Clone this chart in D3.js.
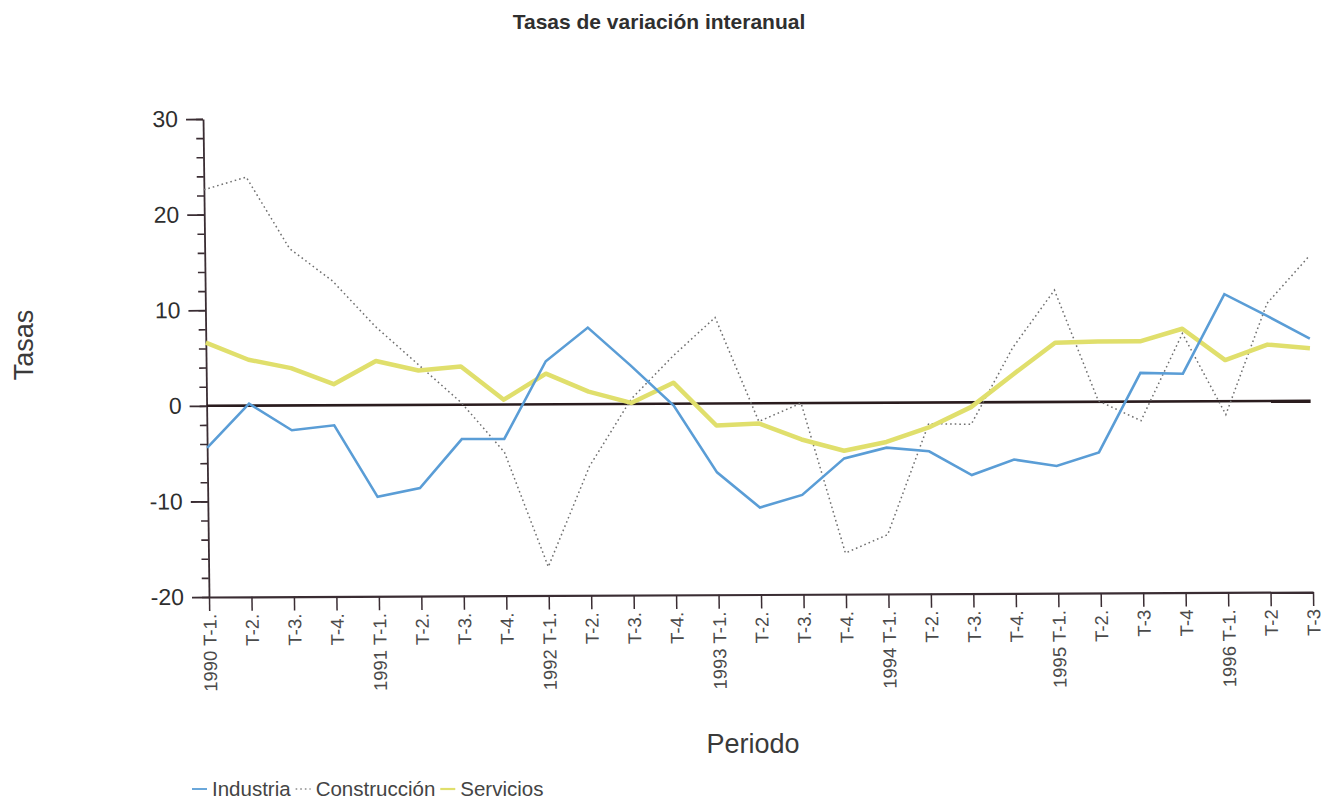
<!DOCTYPE html>
<html>
  <head>
    <meta charset="utf-8">
    <title>Tasas de variación interanual</title>
    <script src="https://cdn.jsdelivr.net/npm/d3@7"></script>
    <style>
      body { margin: 0; background: #fff; }
      svg { display: block; font-family: "Liberation Sans", Arial, sans-serif; }
      .axis path, .axis line { stroke: #3a2d33; }
    </style>
  </head>

  <body>
    <svg id="chart" width="1337" height="802"></svg>

    <script>
      // data
      periods = ["1990 T-1.", "T-2.", "T-3.", "T-4.", "1991 T-1.", "T-2.", "T-3.", "T-4.",
        "1992 T-1.", "T-2.", "T-3.", "T-4.", "1993 T-1.", "T-2.", "T-3.", "T-4.",
        "1994 T-1.", "T-2.", "T-3.", "T-4.", "1995 T-1.", "T-2.", "T-3", "T-4",
        "1996 T-1.", "T-2", "T-3"];
      industria = [-4.4, 0.2, -2.6, -2.1, -9.6, -8.7, -3.6, -3.6, 4.5, 8.0, 4.0, -0.2,
        -7.2, -10.9, -9.6, -5.8, -4.7, -5.1, -7.6, -6.0, -6.7, -5.3, 3.0, 2.9, 11.2, 8.9, 6.5];
      construccion = [22.6, 23.9, 16.4, 13.0, 8.2, 4.2, 0.2, -5.0, -17.0, -6.5, 0.5, 5.0,
        9.0, -1.9, 0.0, -15.7, -13.8, -2.2, -2.3, 5.7, 11.7, 0.1, -2.0, 7.1, -1.4, 10.2, 15.1];
      servicios = [6.6, 4.8, 3.9, 2.2, 4.6, 3.6, 4.0, 0.5, 3.2, 1.3, 0.1, 2.2,
        -2.3, -2.1, -3.8, -5.0, -4.1, -2.6, -0.5, 2.9, 6.2, 6.3, 6.3, 7.6, 4.3, 5.9, 5.5];
      yMajor = [-20, -10, 0, 10, 20, 30];
      yMinor = d3.range(-20, 31, 2);
      seriesNames = ["Industria", "Construcción", "Servicios"];

      // elements
      svg = d3.select("#chart");

      left = 209;
      right = 1313;
      top_ = 119;
      bottom = 597;

      x = d3.scalePoint()
        .domain(d3.range(periods.length))
        .range([left, right]);

      y = d3.scaleLinear()
        .domain([-20, 30])
        .range([bottom, top_]);

      // the scan is slightly skewed
      plot = svg.append("g")
        .attr("transform", "translate(" + left + "," + bottom + ") matrix(1,-0.0045,0.0125,1,0,0) translate(" + (-left) + "," + (-bottom) + ")");

      // minor ticks
      plot.append("g")
        .attr("class", "axis")
        .attr("transform", "translate(" + left + ",0)")
        .call(d3.axisLeft(y).tickValues(yMinor).tickSize(7).tickSizeOuter(0).tickFormat(""))
        .call(function(g) { g.select(".domain").remove(); })
        .selectAll("line").attr("stroke-width", 1.6);

      yAxis = plot.append("g")
        .attr("class", "axis")
        .attr("transform", "translate(" + left + ",0)")
        .call(d3.axisLeft(y).tickValues(yMajor).tickSize(17).tickSizeOuter(0).tickPadding(8)
          .tickFormat(function(d) { return String(d); }));
      yAxis.select(".domain").attr("stroke-width", 1.8);
      yAxis.selectAll("line").attr("stroke-width", 1.8);
      yAxis.selectAll("text")
        .attr("font-size", 23)
        .attr("fill", "#2e2e2e");

      xAxis = plot.append("g")
        .attr("class", "axis")
        .attr("transform", "translate(0," + bottom + ")")
        .call(d3.axisBottom(x).tickSize(14).tickSizeOuter(0).tickFormat(function(i) { return periods[i]; }));
      xAxis.select(".domain").attr("stroke-width", 2.2);
      xAxis.selectAll("line").attr("stroke-width", 1.5);
      xAxis.selectAll("text")
        .attr("transform", "rotate(-90)")
        .attr("x", -17)
        .attr("y", 0)
        .attr("dy", "0.35em")
        .attr("text-anchor", "end")
        .attr("font-size", 18.5)
        .attr("fill", "#4a4a4a");

      // zero line
      plot.append("line")
        .attr("x1", x(0))
        .attr("x2", x(periods.length - 1))
        .attr("y1", y(0))
        .attr("y2", y(0))
        .attr("stroke", "#2a1c1e")
        .attr("stroke-width", 2.6);

      line = d3.line()
        .x(function(d, i) { return x(i); })
        .y(function(d) { return y(d); });

      plot.append("path")
        .datum(construccion)
        .attr("fill", "none")
        .attr("stroke", "#6f6f6f")
        .attr("stroke-width", 1.5)
        .attr("stroke-dasharray", "1.6,3")
        .attr("d", line);

      plot.append("path")
        .datum(servicios)
        .attr("fill", "none")
        .attr("stroke", "#e0df6c")
        .attr("stroke-width", 4.5)
        .attr("stroke-linejoin", "round")
        .attr("d", line);

      plot.append("path")
        .datum(industria)
        .attr("fill", "none")
        .attr("stroke", "#5a9dd6")
        .attr("stroke-width", 2.6)
        .attr("d", line);

      // title and axis names
      svg.append("text")
        .attr("x", 659)
        .attr("y", 29)
        .attr("text-anchor", "middle")
        .attr("font-size", 21)
        .attr("font-weight", "bold")
        .attr("fill", "#2f2f2f")
        .text("Tasas de variación interanual");

      svg.append("text")
        .attr("transform", "translate(33,345) rotate(-90)")
        .attr("text-anchor", "middle")
        .attr("font-size", 27)
        .attr("fill", "#3a3a3a")
        .text("Tasas");

      svg.append("text")
        .attr("x", 753)
        .attr("y", 753)
        .attr("text-anchor", "middle")
        .attr("font-size", 27)
        .attr("fill", "#3a3a3a")
        .text("Periodo");

      // legend
      legendStyles = [
        { stroke: "#5a9dd6", width: 1.8, dash: null },
        { stroke: "#8a8a8a", width: 1.4, dash: "1.6,3" },
        { stroke: "#e0df6c", width: 2.2, dash: null }
      ];
      legend = svg.append("g");
      lx = 192;
      seriesNames.forEach(function(name, i) {
        legend.append("line")
          .attr("x1", lx)
          .attr("x2", lx + 15)
          .attr("y1", 789)
          .attr("y2", 789)
          .attr("stroke", legendStyles[i].stroke)
          .attr("stroke-width", legendStyles[i].width)
          .attr("stroke-dasharray", legendStyles[i].dash);
        t = legend.append("text")
          .attr("x", lx + 20)
          .attr("y", 796)
          .attr("font-size", 20.5)
          .attr("fill", "#444")
          .text(name);
        lx = lx + 20 + t.node().getComputedTextLength() + 5;
      });
    </script>
  </body>
</html>
